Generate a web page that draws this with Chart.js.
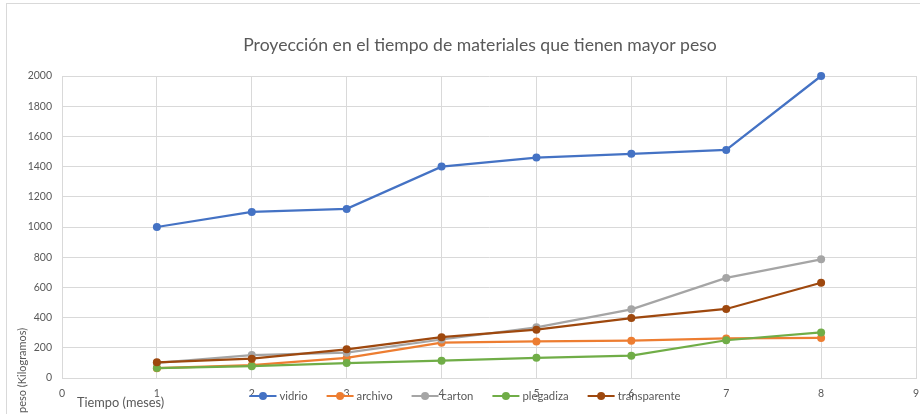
<!DOCTYPE html>
<html>
<head>
<meta charset="utf-8">
<script src="https://cdn.jsdelivr.net/npm/chart.js@4"></script>
<style>
  html, body { margin: 0; padding: 0; background: #fff; }
  #wrap { position: relative; width: 920px; height: 414px; overflow: hidden; }
  #frame { position: absolute; left: 6px; top: 3px; right: -2px; bottom: -2px; border-left: 1px solid #d9d9d9; border-top: 1px solid #d9d9d9; }
  canvas { position: absolute; left: 0; top: 0; }
</style>
</head>
<body>
<div id="wrap">
  <div id="frame"></div>
  <canvas id="grafica" width="920" height="414"></canvas>
</div>
<script>
// datos (peso en kg por mes)
const meses = [1, 2, 3, 4, 5, 6, 7, 8];
const vidrio       = [1000, 1100, 1120, 1400, 1460, 1485, 1510, 2000];
const archivo      = [65, 85, 133, 234, 242, 247, 262, 265];
const carton       = [100, 152, 168, 255, 336, 455, 663, 786];
const plegadiza    = [66, 78, 99, 115, 134, 148, 250, 302];
const transparente = [104, 128, 190, 270, 320, 397, 457, 631];

const series = [
  { label: 'vidrio',       data: vidrio,       color: '#4472C4' },
  { label: 'archivo',      data: archivo,      color: '#ED7D31' },
  { label: 'carton',       data: carton,       color: '#A5A5A5' },
  { label: 'plegadiza',    data: plegadiza,    color: '#70AD47' },
  { label: 'transparente', data: transparente, color: '#9E480E' }
];

const FONT = 'Lato, "Open Sans", sans-serif';
const GRIS = '#595959';

// titulo, ejes y leyenda dibujados a mano (la leyenda de Excel se monta sobre el eje)
const extras = {
  id: 'extras',
  afterDraw(chart) {
    const ctx = chart.ctx;
    ctx.save();
    ctx.fillStyle = GRIS;

    ctx.font = '17.6px ' + FONT;
    ctx.textAlign = 'center';
    ctx.textBaseline = 'middle';
    ctx.fillText('Proyección en el tiempo de materiales que tienen mayor peso', 480, 45);

    ctx.font = '12.8px ' + FONT;
    ctx.textAlign = 'left';
    ctx.fillText('Tiempo (meses)', 77, 403);

    ctx.font = '11px ' + FONT;
    ctx.save();
    ctx.translate(22, 413);
    ctx.rotate(-Math.PI / 2);
    ctx.fillText('peso (Kilogramos)', 0, 0);
    ctx.restore();

    // leyenda
    ctx.font = '11.3px ' + FONT;
    const lineW = 27, gapTxt = 3, gapItem = 19;
    const widths = series.map(s => lineW + gapTxt + ctx.measureText(s.label).width);
    const total = widths.reduce((a, b) => a + b, 0) + gapItem * (series.length - 1);
    let x = 465 - total / 2;
    const y = 396;
    series.forEach((s, i) => {
      ctx.strokeStyle = s.color;
      ctx.lineWidth = 2;
      ctx.beginPath();
      ctx.moveTo(x, y);
      ctx.lineTo(x + lineW, y);
      ctx.stroke();
      ctx.fillStyle = s.color;
      ctx.beginPath();
      ctx.arc(x + lineW / 2, y, 4, 0, Math.PI * 2);
      ctx.fill();
      ctx.fillStyle = GRIS;
      ctx.fillText(s.label, x + lineW + gapTxt, y);
      x += widths[i] + gapItem;
    });
    ctx.restore();
  }
};

new Chart(document.getElementById('grafica').getContext('2d'), {
  type: 'scatter',
  data: {
    datasets: series.map((s, i) => ({
      label: s.label,
      data: s.data.map((v, k) => ({ x: meses[k], y: v })),
      showLine: true,
      borderColor: s.color,
      backgroundColor: s.color,
      borderWidth: 2.25,
      pointRadius: 4,
      pointBorderWidth: 0,
      clip: false,
      order: series.length - i
    }))
  },
  options: {
    responsive: false,
    animation: false,
    layout: { padding: { left: 0, right: 4, top: 76, bottom: 0 } },
    plugins: {
      legend: { display: false },
      title: { display: false },
      tooltip: { enabled: false }
    },
    scales: {
      x: {
        type: 'linear',
        min: 0, max: 9,
        afterFit: (s) => { s.height = 36; s.paddingLeft = 0; s.paddingRight = 0; },
        ticks: { stepSize: 1, padding: 9, color: GRIS, font: { family: FONT, size: 10.5 } },
        grid: { color: '#d9d9d9', drawTicks: false },
        border: { color: '#d9d9d9' }
      },
      y: {
        min: 0, max: 2000,
        afterFit: (s) => { s.width = 62; s.paddingTop = 0; s.paddingBottom = 0; },
        ticks: { stepSize: 200, padding: 10, color: GRIS, font: { family: FONT, size: 10.5 }, callback: (v) => String(v) },
        grid: { color: '#d9d9d9', drawTicks: false },
        border: { color: '#d9d9d9' }
      }
    }
  },
  plugins: [extras]
});
</script>
</body>
</html>
